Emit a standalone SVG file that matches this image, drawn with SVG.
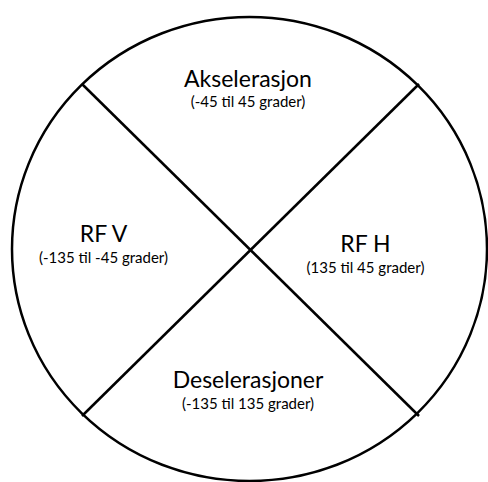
<svg xmlns="http://www.w3.org/2000/svg" width="488" height="482" viewBox="0 0 488 482">
<style>
.t{font-family:Lato,"Open Sans","DejaVu Sans",sans-serif;font-size:23px;fill:#000;text-anchor:middle}
.s{font-family:Lato,"Open Sans","DejaVu Sans",sans-serif;font-size:15px;fill:#000;text-anchor:middle}
.ln{stroke:#000;stroke-width:2.5;fill:none}
</style>
<rect width="488" height="482" fill="#fff"/>
<g id="circle"><ellipse class="ln" cx="249.5" cy="249" rx="237.5" ry="232"/></g>
<g id="connectors">
<line class="ln" x1="82" y1="84" x2="419" y2="416"/>
<line class="ln" x1="419" y1="84" x2="82" y2="416"/>
</g>
<g id="akselerasjon"><text class="t" x="248" y="87">Akselerasjon</text><text class="s" x="248" y="107">(-45 til 45 grader)</text></g>
<g id="rfv"><text class="t" x="103.5" y="242">RF V</text><text class="s" x="103.5" y="263">(-135 til -45 grader)</text></g>
<g id="rfh"><text class="t" x="365.5" y="252">RF H</text><text class="s" x="365.5" y="273">(135 til 45 grader)</text></g>
<g id="deselerasjoner"><text class="t" x="248" y="388">Deselerasjoner</text><text class="s" x="248" y="409">(-135 til 135 grader)</text></g>
</svg>
